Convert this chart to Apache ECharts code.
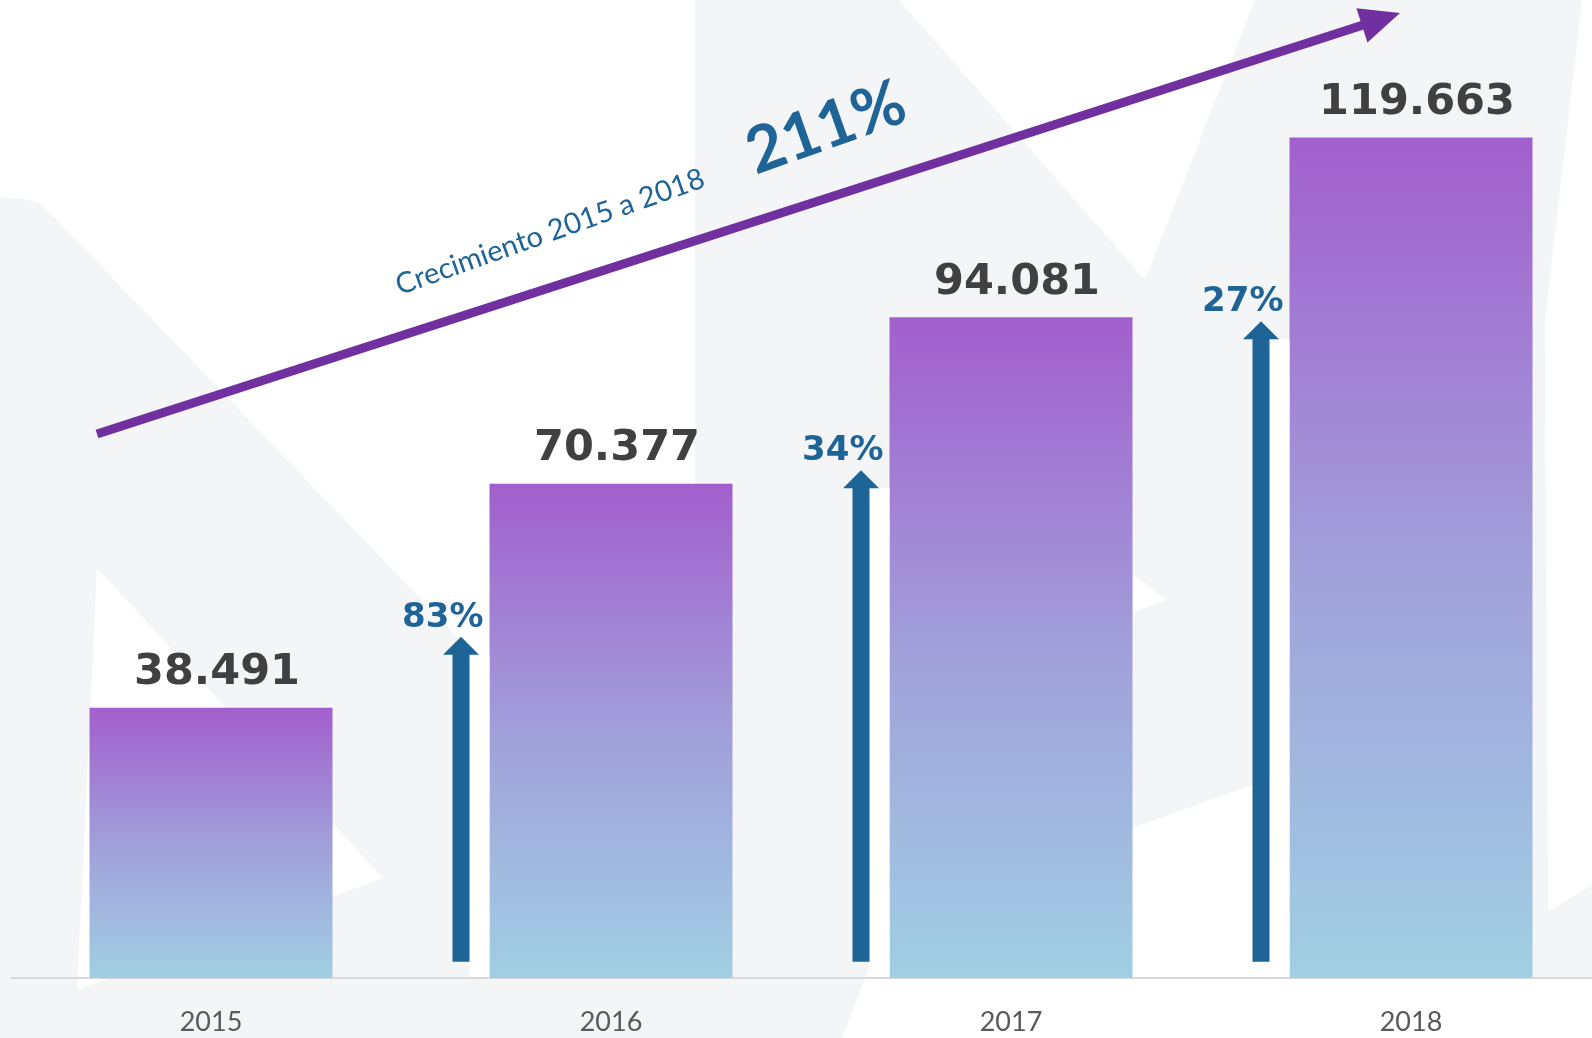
<!DOCTYPE html>
<html>
<head>
<meta charset="utf-8">
<style>
  html, body { margin: 0; padding: 0; background: #f4f5f7; }
  #chart { width: 1592px; height: 1038px; }
</style>
<script src="https://cdn.jsdelivr.net/npm/echarts@6/dist/echarts.min.js"></script>
</head>
<body>
<div id="chart"></div>
<script>
  // datos
  var years = ['2015', '2016', '2017', '2018'];
  var totals = [38491, 70377, 94081, 119663];
  var growthLabels = ['', '83%', '34%', '27%'];
  var arrowTop = [null, 48600, 72300, 93500];
  var arrowBase = 2300;
  var totalGrowth = '211%';
  var growthTitle = 'Crecimiento 2015 a 2018';

  function fmt(v) {
    return String(v).replace(/\B(?=(\d{3})+(?!\d))/g, '.');
  }

  var arrowData = [];
  for (var i = 0; i < years.length; i++) {
    if (arrowTop[i] != null) {
      arrowData.push([i, arrowBase, arrowTop[i], growthLabels[i]]);
    }
  }

  var chart = echarts.init(document.getElementById('chart'));

  // fondo (marca de agua)
  var bgShapes = [
    [[0, 0], [695, 0], [695, 885], [54, 217], [40, 204], [20, 198], [0, 197]],
    [[97, 568], [383, 878], [77, 990]],
    [[899, 0], [1255, 0], [1145, 280]],
    [[1133, 574], [1167, 600], [1133, 612]],
    [[1582, 0], [1592, 0], [1592, 885], [1548, 912], [1545, 320]],
    [[842, 1038], [889, 915], [1300, 768], [1300, 978], [1592, 978], [1592, 1038]]
  ];
  var graphics = bgShapes.map(function (pts) {
    return {
      type: 'polygon',
      z: -10,
      silent: true,
      shape: { points: pts },
      style: { fill: '#ffffff' }
    };
  });

  // flecha de crecimiento
  var tip = [1400, 13], start = [97, 434];
  var dx = tip[0] - start[0], dy = tip[1] - start[1];
  var len = Math.sqrt(dx * dx + dy * dy);
  var ux = dx / len, uy = dy / len;
  var headLen = 40, headHalf = 18;
  var bx = tip[0] - ux * headLen, by = tip[1] - uy * headLen;
  graphics.push({
    type: 'line',
    z: 5,
    shape: { x1: start[0], y1: start[1], x2: bx + ux * 2, y2: by + uy * 2 },
    style: { stroke: '#7030a0', lineWidth: 9, lineCap: 'butt' }
  });
  graphics.push({
    type: 'polygon',
    z: 5,
    shape: { points: [tip, [bx - uy * headHalf, by + ux * headHalf], [bx + uy * headHalf, by - ux * headHalf]] },
    style: { fill: '#7030a0' }
  });
  var ang = 19.5 * Math.PI / 180;
  graphics.push({
    type: 'text',
    z: 5,
    x: 550, y: 232,
    rotation: ang,
    style: {
      text: growthTitle,
      fill: '#1f6497',
      fontSize: 29,
      fontFamily: 'Lato',
      align: 'center',
      verticalAlign: 'middle'
    }
  });
  graphics.push({
    type: 'text',
    z: 5,
    x: 826, y: 128,
    rotation: ang,
    style: {
      text: totalGrowth,
      fill: '#1f6497',
      fontSize: 64,
      fontWeight: 'bold',
      fontFamily: 'Lato',
      align: 'center',
      verticalAlign: 'middle'
    }
  });

  var option = {
    backgroundColor: '#f4f5f7',
    animation: false,
    grid: {
      left: 11,
      width: 1600,
      top: 65,
      bottom: 60,
      outerBoundsMode: 'none',
      containLabel: false
    },
    xAxis: {
      type: 'category',
      data: years,
      axisLine: { lineStyle: { color: '#d9d9d9', width: 2 } },
      axisTick: { show: false },
      axisLabel: {
        color: '#595959',
        fontSize: 27,
        fontFamily: 'Lato',
        margin: 31
      }
    },
    yAxis: {
      type: 'value',
      min: 0,
      max: 130000,
      show: false,
      splitLine: { show: false }
    },
    graphic: graphics,
    series: [
      {
        type: 'bar',
        data: totals,
        barWidth: 243,
        itemStyle: {
          color: new echarts.graphic.LinearGradient(0, 0, 0, 1, [
            { offset: 0, color: '#a15fcd' },
            { offset: 0.5, color: '#a19fda' },
            { offset: 1, color: '#a0cfe3' }
          ])
        },
        label: {
          show: true,
          position: 'top',
          distance: 13,
          offset: [6, 0],
          formatter: function (p) { return fmt(p.value); },
          color: '#404040',
          fontSize: 43,
          fontWeight: 'bold',
          fontFamily: 'DejaVu Sans'
        }
      },
      {
        type: 'custom',
        z: 4,
        data: arrowData,
        renderItem: function (params, api) {
          var idx = api.value(0);
          var p0 = api.coord([idx, api.value(1)]);
          var p1 = api.coord([idx, api.value(2)]);
          var pAxis = api.coord([idx, 0]);
          var band = api.size([1, 0])[0];
          var cx = p0[0] - band * 0.375;
          var sw = 8.5, hw = 18, hh = 18;
          var barLeft = p0[0] - 243 / 2;
          return {
            type: 'group',
            children: [
              {
                type: 'rect',
                shape: { x: cx + sw, y: p1[1] + hh, width: barLeft - cx - sw, height: pAxis[1] - p1[1] - hh - 1 },
                style: { fill: '#ffffff' }
              },
              {
                type: 'polygon',
                shape: {
                  points: [
                    [cx - sw, p0[1]], [cx - sw, p1[1] + hh], [cx - hw, p1[1] + hh],
                    [cx, p1[1]], [cx + hw, p1[1] + hh], [cx + sw, p1[1] + hh], [cx + sw, p0[1]]
                  ]
                },
                style: { fill: '#1f6497' }
              },
              {
                type: 'text',
                style: {
                  text: api.value(3),
                  x: barLeft - 6,
                  y: p1[1] - 19,
                  align: 'right',
                  verticalAlign: 'middle',
                  fill: '#1f6497',
                  fontSize: 34,
                  fontWeight: 'bold',
                  fontFamily: 'DejaVu Sans'
                }
              }
            ]
          };
        }
      }
    ]
  };
  chart.setOption(option);
</script>
</body>
</html>
